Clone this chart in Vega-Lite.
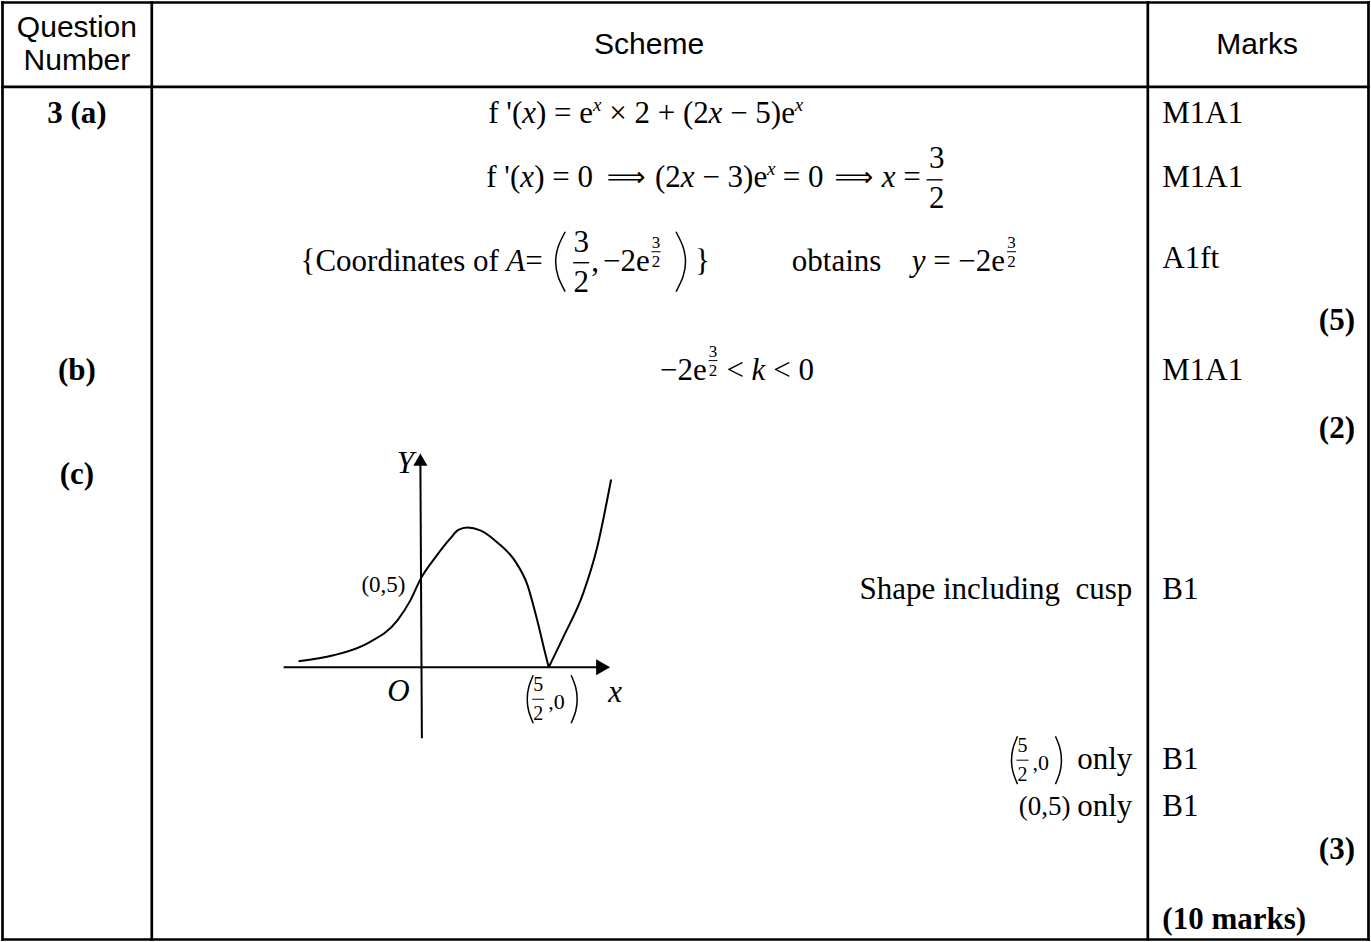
{
  "$schema": "https://vega.github.io/schema/vega-lite/v6.json",
  "width": 1371,
  "height": 942,
  "autosize": {"type": "fit", "contains": "padding"},
  "padding": 0,
  "background": "white",
  "config": {"view": {"stroke": null}},
  "datasets": {
    "rules": [
      {"kind": "table", "x": 1.5, "y": 1.5, "x2": 1369.5, "y2": 1.5},
      {"kind": "table", "x": 1.5, "y": 939.5, "x2": 1369.5, "y2": 939.5},
      {"kind": "table", "x": 1.5, "y": 1.5, "x2": 1.5, "y2": 939.5},
      {"kind": "table", "x": 1369.5, "y": 1.5, "x2": 1369.5, "y2": 939.5},
      {"kind": "table", "x": 1.5, "y": 86, "x2": 1369.5, "y2": 86},
      {"kind": "table", "x": 151, "y": 1.5, "x2": 151, "y2": 939.5},
      {"kind": "table", "x": 1148.5, "y": 1.5, "x2": 1148.5, "y2": 939.5},
      {"kind": "axis", "x": 283, "y": 667, "x2": 598, "y2": 667},
      {"kind": "axis", "x": 420, "y": 462, "x2": 421.5, "y2": 738},
      {"kind": "frac", "x": 927, "y": 179, "x2": 943, "y2": 179},
      {"kind": "frac", "x": 573, "y": 262, "x2": 589, "y2": 262},
      {"kind": "sfrac", "x": 651.5, "y": 251, "x2": 660.5, "y2": 251},
      {"kind": "sfrac", "x": 1007.5, "y": 251, "x2": 1016.5, "y2": 251},
      {"kind": "sfrac", "x": 708.5, "y": 360, "x2": 717.5, "y2": 360},
      {"kind": "sfrac", "x": 532, "y": 699, "x2": 544, "y2": 699},
      {"kind": "sfrac", "x": 1017, "y": 760, "x2": 1029, "y2": 760}
    ],
    "paths": [
      {"id": "p3L", "i": 0, "x": 565, "y": 231},
      {"id": "p3L", "i": 1, "x": 558, "y": 246},
      {"id": "p3L", "i": 2, "x": 555.5, "y": 261},
      {"id": "p3L", "i": 3, "x": 558, "y": 276},
      {"id": "p3L", "i": 4, "x": 565, "y": 291},
      {"id": "p3R", "i": 0, "x": 676, "y": 231},
      {"id": "p3R", "i": 1, "x": 683, "y": 246},
      {"id": "p3R", "i": 2, "x": 685.5, "y": 261},
      {"id": "p3R", "i": 3, "x": 683, "y": 276},
      {"id": "p3R", "i": 4, "x": 676, "y": 291},
      {"id": "gL", "i": 0, "x": 533, "y": 675},
      {"id": "gL", "i": 1, "x": 528.5, "y": 687},
      {"id": "gL", "i": 2, "x": 527, "y": 699},
      {"id": "gL", "i": 3, "x": 528.5, "y": 711},
      {"id": "gL", "i": 4, "x": 533, "y": 723},
      {"id": "gR", "i": 0, "x": 571, "y": 675},
      {"id": "gR", "i": 1, "x": 575.5, "y": 687},
      {"id": "gR", "i": 2, "x": 577, "y": 699},
      {"id": "gR", "i": 3, "x": 575.5, "y": 711},
      {"id": "gR", "i": 4, "x": 571, "y": 723},
      {"id": "oL", "i": 0, "x": 1018, "y": 736},
      {"id": "oL", "i": 1, "x": 1013.5, "y": 748},
      {"id": "oL", "i": 2, "x": 1012, "y": 760},
      {"id": "oL", "i": 3, "x": 1013.5, "y": 772},
      {"id": "oL", "i": 4, "x": 1018, "y": 784},
      {"id": "oR", "i": 0, "x": 1056, "y": 736},
      {"id": "oR", "i": 1, "x": 1060.5, "y": 748},
      {"id": "oR", "i": 2, "x": 1062, "y": 760},
      {"id": "oR", "i": 3, "x": 1060.5, "y": 772},
      {"id": "oR", "i": 4, "x": 1056, "y": 784}
    ],
    "curve": [
      {"id": "cL", "i": 0, "x": 298, "y": 661},
      {"id": "cL", "i": 1, "x": 333, "y": 655},
      {"id": "cL", "i": 2, "x": 367, "y": 643},
      {"id": "cL", "i": 3, "x": 397, "y": 620},
      {"id": "cL", "i": 4, "x": 410, "y": 600},
      {"id": "cL", "i": 5, "x": 420, "y": 579},
      {"id": "cL", "i": 6, "x": 435, "y": 557},
      {"id": "cL", "i": 7, "x": 450, "y": 538},
      {"id": "cL", "i": 8, "x": 458, "y": 529.5},
      {"id": "cL", "i": 9, "x": 467, "y": 527},
      {"id": "cL", "i": 10, "x": 480, "y": 530},
      {"id": "cL", "i": 11, "x": 497, "y": 542},
      {"id": "cL", "i": 12, "x": 515, "y": 561},
      {"id": "cL", "i": 13, "x": 527, "y": 584},
      {"id": "cL", "i": 14, "x": 537, "y": 620},
      {"id": "cL", "i": 15, "x": 545, "y": 653},
      {"id": "cL", "i": 16, "x": 548.5, "y": 667},
      {"id": "cR", "i": 0, "x": 548.5, "y": 667},
      {"id": "cR", "i": 1, "x": 563, "y": 637},
      {"id": "cR", "i": 2, "x": 583, "y": 593},
      {"id": "cR", "i": 3, "x": 597, "y": 547},
      {"id": "cR", "i": 4, "x": 611, "y": 479}
    ],
    "arrows": [
      {"dir": "up", "x": 420, "y": 459},
      {"dir": "right", "x": 603, "y": 667}
    ],
    "texts": [
      {"role": "head", "x": 76, "y": 27, "t": "Question"},
      {"role": "head", "x": 76, "y": 60, "t": "Number"},
      {"role": "head", "x": 649, "y": 44, "t": "Scheme"},
      {"role": "head", "x": 1258, "y": 44, "t": "Marks"},
      {"role": "qb", "x": 76, "y": 113, "t": "3 (a)"},
      {"role": "qb", "x": 76, "y": 370, "t": "(b)"},
      {"role": "qb", "x": 76, "y": 475, "t": "(c)"},
      {"role": "rm", "x": 488, "y": 113, "t": "f '("},
      {"role": "rm", "x": 535.8, "y": 113, "t": ") = e"},
      {"role": "rm", "x": 609.1, "y": 113, "t": "× 2 + (2"},
      {"role": "rm", "x": 730.2, "y": 113, "t": "− 5)e"},
      {"role": "rm", "x": 486, "y": 177, "t": "f '("},
      {"role": "rm", "x": 534, "y": 177, "t": ") = 0"},
      {"role": "rm", "x": 655, "y": 177, "t": "(2"},
      {"role": "rm", "x": 702.4, "y": 177, "t": "− 3)e"},
      {"role": "rm", "x": 783, "y": 177, "t": "= 0"},
      {"role": "rm", "x": 903.5, "y": 177, "t": "="},
      {"role": "rm", "x": 300, "y": 261, "t": "{Coordinates of"},
      {"role": "rm", "x": 525, "y": 261, "t": "="},
      {"role": "rm", "x": 591, "y": 261, "t": ","},
      {"role": "rm", "x": 603, "y": 261, "t": "−2e"},
      {"role": "rm", "x": 695, "y": 261, "t": "}"},
      {"role": "rm", "x": 792, "y": 261, "t": "obtains"},
      {"role": "rm", "x": 933.5, "y": 261, "t": "= −2e"},
      {"role": "rm", "x": 660, "y": 370, "t": "−2e"},
      {"role": "rm", "x": 726.5, "y": 370, "t": "<"},
      {"role": "rm", "x": 773.3, "y": 370, "t": "< 0"},
      {"role": "rm", "x": 1163, "y": 113, "t": "M1A1"},
      {"role": "rm", "x": 1163, "y": 177, "t": "M1A1"},
      {"role": "rm", "x": 1163, "y": 258, "t": "A1ft"},
      {"role": "rm", "x": 1163, "y": 370, "t": "M1A1"},
      {"role": "rm", "x": 1163, "y": 590, "t": "B1"},
      {"role": "rm", "x": 1163, "y": 760, "t": "B1"},
      {"role": "rm", "x": 1163, "y": 807, "t": "B1"},
      {"role": "rmr", "x": 1133, "y": 590, "t": "Shape including\u00a0 cusp"},
      {"role": "rmr", "x": 1133, "y": 760, "t": "only"},
      {"role": "rmr", "x": 1133, "y": 807, "t": "only"},
      {"role": "it", "x": 522, "y": 113, "t": "x"},
      {"role": "it", "x": 708.6, "y": 113, "t": "x"},
      {"role": "it", "x": 520, "y": 177, "t": "x"},
      {"role": "it", "x": 680.8, "y": 177, "t": "x"},
      {"role": "it", "x": 882, "y": 177, "t": "x"},
      {"role": "it", "x": 506, "y": 261, "t": "A"},
      {"role": "it", "x": 912, "y": 261, "t": "y"},
      {"role": "it", "x": 751.7, "y": 370, "t": "k"},
      {"role": "supx", "x": 592.9, "y": 104, "t": "x"},
      {"role": "supx", "x": 795, "y": 104, "t": "x"},
      {"role": "supx", "x": 767.2, "y": 168, "t": "x"},
      {"role": "arrow", "x": 626, "y": 177, "t": "⟹"},
      {"role": "arrow", "x": 854, "y": 177, "t": "⟹"},
      {"role": "mfrac", "x": 937, "y": 158, "t": "3"},
      {"role": "mfrac", "x": 937, "y": 198, "t": "2"},
      {"role": "mfrac", "x": 581, "y": 242, "t": "3"},
      {"role": "mfrac", "x": 581, "y": 282, "t": "2"},
      {"role": "sfrac", "x": 656, "y": 242, "t": "3"},
      {"role": "sfrac", "x": 656, "y": 261, "t": "2"},
      {"role": "sfrac", "x": 1012, "y": 242, "t": "3"},
      {"role": "sfrac", "x": 1012, "y": 261, "t": "2"},
      {"role": "sfrac", "x": 713, "y": 351, "t": "3"},
      {"role": "sfrac", "x": 713, "y": 370, "t": "2"},
      {"role": "lab", "x": 383, "y": 585, "t": "(0,5)"},
      {"role": "labr", "x": 1071, "y": 807, "t": "(0,5)"},
      {"role": "tiny", "x": 538, "y": 685, "t": "5"},
      {"role": "tiny", "x": 538, "y": 714, "t": "2"},
      {"role": "tiny", "x": 1023, "y": 746, "t": "5"},
      {"role": "tiny", "x": 1023, "y": 775, "t": "2"},
      {"role": "tinyl", "x": 548, "y": 702, "t": ",0"},
      {"role": "tinyl", "x": 1033, "y": 763, "t": ",0"},
      {"role": "itc", "x": 405, "y": 463, "t": "Y"},
      {"role": "itc", "x": 398, "y": 692, "t": "O"},
      {"role": "itc", "x": 615, "y": 693, "t": "x"},
      {"role": "bl", "x": 1163, "y": 920, "t": "(10 marks)"},
      {"role": "br", "x": 1356, "y": 320, "t": "(5)"},
      {"role": "br", "x": 1356, "y": 428, "t": "(2)"},
      {"role": "br", "x": 1356, "y": 850, "t": "(3)"}
    ]
  },
  "layer": [
    {
      "data": {"name": "rules"},
      "transform": [{"filter": "datum.kind === 'table'"}],
      "mark": {"type": "rule", "color": "black", "strokeWidth": 2.7, "strokeCap": "square"},
      "encoding": {
        "x": {"field": "x", "type": "quantitative", "scale": {"domain": [0, 1371], "nice": false, "zero": false}, "axis": null},
        "y": {"field": "y", "type": "quantitative", "scale": {"domain": [0, 942], "nice": false, "zero": false, "reverse": true}, "axis": null},
        "x2": {"field": "x2"},
        "y2": {"field": "y2"}
      }
    },
    {
      "data": {"name": "rules"},
      "transform": [{"filter": "datum.kind === 'axis'"}],
      "mark": {"type": "rule", "color": "black", "strokeWidth": 2},
      "encoding": {
        "x": {"field": "x", "type": "quantitative", "axis": null},
        "y": {"field": "y", "type": "quantitative", "axis": null},
        "x2": {"field": "x2"},
        "y2": {"field": "y2"}
      }
    },
    {
      "data": {"name": "rules"},
      "transform": [{"filter": "datum.kind === 'frac'"}],
      "mark": {"type": "rule", "color": "black", "strokeWidth": 1.4},
      "encoding": {
        "x": {"field": "x", "type": "quantitative", "axis": null},
        "y": {"field": "y", "type": "quantitative", "axis": null},
        "x2": {"field": "x2"},
        "y2": {"field": "y2"}
      }
    },
    {
      "data": {"name": "rules"},
      "transform": [{"filter": "datum.kind === 'sfrac'"}],
      "mark": {"type": "rule", "color": "black", "strokeWidth": 1},
      "encoding": {
        "x": {"field": "x", "type": "quantitative", "axis": null},
        "y": {"field": "y", "type": "quantitative", "axis": null},
        "x2": {"field": "x2"},
        "y2": {"field": "y2"}
      }
    },
    {
      "data": {"name": "paths"},
      "mark": {"type": "line", "color": "black", "strokeWidth": 1.5, "interpolate": "natural"},
      "encoding": {
        "x": {"field": "x", "type": "quantitative", "axis": null},
        "y": {"field": "y", "type": "quantitative", "axis": null},
        "detail": {"field": "id", "type": "nominal"},
        "order": {"field": "i", "type": "quantitative"}
      }
    },
    {
      "data": {"name": "curve"},
      "mark": {"type": "line", "color": "black", "strokeWidth": 2, "interpolate": "monotone"},
      "encoding": {
        "x": {"field": "x", "type": "quantitative", "axis": null},
        "y": {"field": "y", "type": "quantitative", "axis": null},
        "detail": {"field": "id", "type": "nominal"},
        "order": {"field": "i", "type": "quantitative"}
      }
    },
    {
      "data": {"name": "arrows"},
      "transform": [{"filter": "datum.dir === 'up'"}],
      "mark": {"type": "point", "shape": "triangle-up", "size": 200, "filled": true, "color": "black", "opacity": 1},
      "encoding": {
        "x": {"field": "x", "type": "quantitative", "axis": null},
        "y": {"field": "y", "type": "quantitative", "axis": null}
      }
    },
    {
      "data": {"name": "arrows"},
      "transform": [{"filter": "datum.dir === 'right'"}],
      "mark": {"type": "point", "shape": "triangle-right", "size": 260, "filled": true, "color": "black", "opacity": 1},
      "encoding": {
        "x": {"field": "x", "type": "quantitative", "axis": null},
        "y": {"field": "y", "type": "quantitative", "axis": null}
      }
    },
    {
      "data": {"name": "texts"},
      "transform": [{"filter": "datum.role === 'head'"}],
      "mark": {"type": "text", "font": "Liberation Sans", "fontSize": 30, "align": "center", "baseline": "middle", "color": "black"},
      "encoding": {"x": {"field": "x", "type": "quantitative", "axis": null}, "y": {"field": "y", "type": "quantitative", "axis": null}, "text": {"field": "t"}}
    },
    {
      "data": {"name": "texts"},
      "transform": [{"filter": "datum.role === 'qb'"}],
      "mark": {"type": "text", "font": "Liberation Serif", "fontSize": 31, "fontWeight": "bold", "align": "center", "baseline": "middle", "color": "black"},
      "encoding": {"x": {"field": "x", "type": "quantitative", "axis": null}, "y": {"field": "y", "type": "quantitative", "axis": null}, "text": {"field": "t"}}
    },
    {
      "data": {"name": "texts"},
      "transform": [{"filter": "datum.role === 'rm'"}],
      "mark": {"type": "text", "font": "Liberation Serif", "fontSize": 31, "align": "left", "baseline": "middle", "color": "black"},
      "encoding": {"x": {"field": "x", "type": "quantitative", "axis": null}, "y": {"field": "y", "type": "quantitative", "axis": null}, "text": {"field": "t"}}
    },
    {
      "data": {"name": "texts"},
      "transform": [{"filter": "datum.role === 'rmr'"}],
      "mark": {"type": "text", "font": "Liberation Serif", "fontSize": 31, "align": "right", "baseline": "middle", "color": "black"},
      "encoding": {"x": {"field": "x", "type": "quantitative", "axis": null}, "y": {"field": "y", "type": "quantitative", "axis": null}, "text": {"field": "t"}}
    },
    {
      "data": {"name": "texts"},
      "transform": [{"filter": "datum.role === 'it'"}],
      "mark": {"type": "text", "font": "Liberation Serif", "fontSize": 31, "fontStyle": "italic", "align": "left", "baseline": "middle", "color": "black"},
      "encoding": {"x": {"field": "x", "type": "quantitative", "axis": null}, "y": {"field": "y", "type": "quantitative", "axis": null}, "text": {"field": "t"}}
    },
    {
      "data": {"name": "texts"},
      "transform": [{"filter": "datum.role === 'itc'"}],
      "mark": {"type": "text", "font": "Liberation Serif", "fontSize": 31, "fontStyle": "italic", "align": "center", "baseline": "middle", "color": "black"},
      "encoding": {"x": {"field": "x", "type": "quantitative", "axis": null}, "y": {"field": "y", "type": "quantitative", "axis": null}, "text": {"field": "t"}}
    },
    {
      "data": {"name": "texts"},
      "transform": [{"filter": "datum.role === 'supx'"}],
      "mark": {"type": "text", "font": "Liberation Serif", "fontSize": 19, "fontStyle": "italic", "align": "left", "baseline": "middle", "color": "black"},
      "encoding": {"x": {"field": "x", "type": "quantitative", "axis": null}, "y": {"field": "y", "type": "quantitative", "axis": null}, "text": {"field": "t"}}
    },
    {
      "data": {"name": "texts"},
      "transform": [{"filter": "datum.role === 'arrow'"}],
      "mark": {"type": "text", "font": "DejaVu Sans", "fontSize": 27, "align": "center", "baseline": "middle", "color": "black"},
      "encoding": {"x": {"field": "x", "type": "quantitative", "axis": null}, "y": {"field": "y", "type": "quantitative", "axis": null}, "text": {"field": "t"}}
    },
    {
      "data": {"name": "texts"},
      "transform": [{"filter": "datum.role === 'mfrac'"}],
      "mark": {"type": "text", "font": "Liberation Serif", "fontSize": 31, "align": "center", "baseline": "middle", "color": "black"},
      "encoding": {"x": {"field": "x", "type": "quantitative", "axis": null}, "y": {"field": "y", "type": "quantitative", "axis": null}, "text": {"field": "t"}}
    },
    {
      "data": {"name": "texts"},
      "transform": [{"filter": "datum.role === 'sfrac'"}],
      "mark": {"type": "text", "font": "Liberation Serif", "fontSize": 17, "align": "center", "baseline": "middle", "color": "black"},
      "encoding": {"x": {"field": "x", "type": "quantitative", "axis": null}, "y": {"field": "y", "type": "quantitative", "axis": null}, "text": {"field": "t"}}
    },
    {
      "data": {"name": "texts"},
      "transform": [{"filter": "datum.role === 'lab'"}],
      "mark": {"type": "text", "font": "Liberation Serif", "fontSize": 23, "align": "center", "baseline": "middle", "color": "black"},
      "encoding": {"x": {"field": "x", "type": "quantitative", "axis": null}, "y": {"field": "y", "type": "quantitative", "axis": null}, "text": {"field": "t"}}
    },
    {
      "data": {"name": "texts"},
      "transform": [{"filter": "datum.role === 'labr'"}],
      "mark": {"type": "text", "font": "Liberation Serif", "fontSize": 27, "align": "right", "baseline": "middle", "color": "black"},
      "encoding": {"x": {"field": "x", "type": "quantitative", "axis": null}, "y": {"field": "y", "type": "quantitative", "axis": null}, "text": {"field": "t"}}
    },
    {
      "data": {"name": "texts"},
      "transform": [{"filter": "datum.role === 'tiny'"}],
      "mark": {"type": "text", "font": "Liberation Serif", "fontSize": 20, "align": "center", "baseline": "middle", "color": "black"},
      "encoding": {"x": {"field": "x", "type": "quantitative", "axis": null}, "y": {"field": "y", "type": "quantitative", "axis": null}, "text": {"field": "t"}}
    },
    {
      "data": {"name": "texts"},
      "transform": [{"filter": "datum.role === 'tinyl'"}],
      "mark": {"type": "text", "font": "Liberation Serif", "fontSize": 22, "align": "left", "baseline": "middle", "color": "black"},
      "encoding": {"x": {"field": "x", "type": "quantitative", "axis": null}, "y": {"field": "y", "type": "quantitative", "axis": null}, "text": {"field": "t"}}
    },
    {
      "data": {"name": "texts"},
      "transform": [{"filter": "datum.role === 'bl'"}],
      "mark": {"type": "text", "font": "Liberation Serif", "fontSize": 31, "fontWeight": "bold", "align": "left", "baseline": "middle", "color": "black"},
      "encoding": {"x": {"field": "x", "type": "quantitative", "axis": null}, "y": {"field": "y", "type": "quantitative", "axis": null}, "text": {"field": "t"}}
    },
    {
      "data": {"name": "texts"},
      "transform": [{"filter": "datum.role === 'br'"}],
      "mark": {"type": "text", "font": "Liberation Serif", "fontSize": 31, "fontWeight": "bold", "align": "right", "baseline": "middle", "color": "black"},
      "encoding": {"x": {"field": "x", "type": "quantitative", "axis": null}, "y": {"field": "y", "type": "quantitative", "axis": null}, "text": {"field": "t"}}
    }
  ]
}
